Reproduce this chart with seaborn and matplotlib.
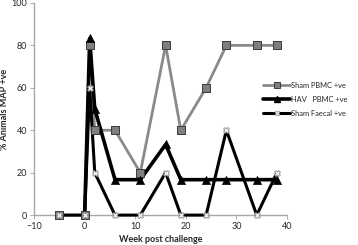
import numpy as np
import pandas as pd
import matplotlib
matplotlib.use("Agg")
import matplotlib.pyplot as plt
import seaborn as sns
from matplotlib.lines import Line2D

# data
weeks = [-5, 0, 1, 2, 6, 11, 16, 19, 24, 28, 34, 38]
sham_pbmc = [0, 0, 80, 40, 40, 20, 80, 40, 60, 80, 80, 80]
hav_weeks = [0, 1, 2, 6, 11, 16, 19, 24, 28, 34, 38]
hav_pbmc = [0, 83.3, 50, 16.7, 16.7, 33.3, 16.7, 16.7, 16.7, 16.7, 16.7]
sham_faecal = [0, 0, 60, 20, 0, 0, 20, 0, 0, 40, 0, 20]
labels = ["Sham PBMC +ve", "HAV   PBMC +ve", "Sham Faecal +ve"]

df_pbmc = pd.DataFrame({"week": weeks, "pct": sham_pbmc})
df_hav = pd.DataFrame({"week": hav_weeks, "pct": hav_pbmc})
df_faecal = pd.DataFrame({"week": weeks, "pct": sham_faecal})

sns.set_style("white")
plt.rcParams["font.family"] = ["Lato", "DejaVu Sans"]

fig = plt.figure(figsize=(3.58, 2.45), dpi=100)
ax = fig.add_axes([0.095, 0.122, 0.707, 0.866])

# styles
pbmc_line = dict(color="#8a8a8a", lw=2.0)
pbmc_mark = dict(marker="s", s=26, color="#7f7f7f", edgecolor="#3a3a3a", linewidth=0.7)
hav_line = dict(color="black", lw=2.6)
hav_mark = dict(marker="^", s=34, color="black", edgecolor="black", linewidth=0.5)
fae_line = dict(color="black", lw=2.2)
fae_mark = dict(marker="X", s=18, color="white", edgecolor="#8a8a8a", linewidth=0.6)

sns.lineplot(data=df_pbmc, x="week", y="pct", ax=ax, clip_on=False, **pbmc_line)
sns.lineplot(data=df_hav, x="week", y="pct", ax=ax, clip_on=False, **hav_line)
sns.lineplot(data=df_faecal, x="week", y="pct", ax=ax, clip_on=False, **fae_line)

sns.scatterplot(data=df_pbmc, x="week", y="pct", ax=ax, clip_on=False, zorder=3, **pbmc_mark)
sns.scatterplot(data=df_hav.iloc[1:], x="week", y="pct", ax=ax, clip_on=False, zorder=3, **hav_mark)
sns.scatterplot(data=df_faecal, x="week", y="pct", ax=ax, clip_on=False, zorder=4, **fae_mark)

ax.set_xlim(-10, 40)
ax.set_ylim(0, 100)
ax.set_xticks([-10, 0, 10, 20, 30, 40])
ax.set_yticks([0, 20, 40, 60, 80, 100])
ax.tick_params(axis="both", labelsize=6.5, length=3, width=0.6, color="#a0a0a0", pad=2)
ax.tick_params(axis="x", direction="out", bottom=True)
ax.tick_params(axis="y", direction="out", left=True)
for side in ["top", "right"]:
    ax.spines[side].set_visible(False)
for side in ["left", "bottom"]:
    ax.spines[side].set_color("#a8a8a8")
    ax.spines[side].set_linewidth(1.0)
    ax.spines[side].set_zorder(0.5)

ax.set_xlabel("Week post challenge", fontsize=6.5, fontweight="bold", labelpad=3)
ax.set_ylabel("% Animals MAP +ve", fontsize=6.5, fontweight="bold", labelpad=2)

handles = [
    Line2D([], [], color=pbmc_line["color"], lw=2.0, marker="s", markersize=4,
           markerfacecolor="#7f7f7f", markeredgecolor="#3a3a3a", markeredgewidth=0.7),
    Line2D([], [], color="black", lw=2.6, marker="^", markersize=4.5,
           markerfacecolor="black", markeredgecolor="black"),
    Line2D([], [], color="black", lw=2.2, marker="X", markersize=3.5,
           markerfacecolor="white", markeredgecolor="#8a8a8a", markeredgewidth=0.5),
]
fig.legend(handles, labels, loc="upper left", bbox_to_anchor=(0.735, 0.665),
           frameon=False, fontsize=5.4, handlelength=3.6, handletextpad=0.15,
           labelspacing=0.9, borderaxespad=0, borderpad=0)

fig.savefig("out.png", dpi=100)
